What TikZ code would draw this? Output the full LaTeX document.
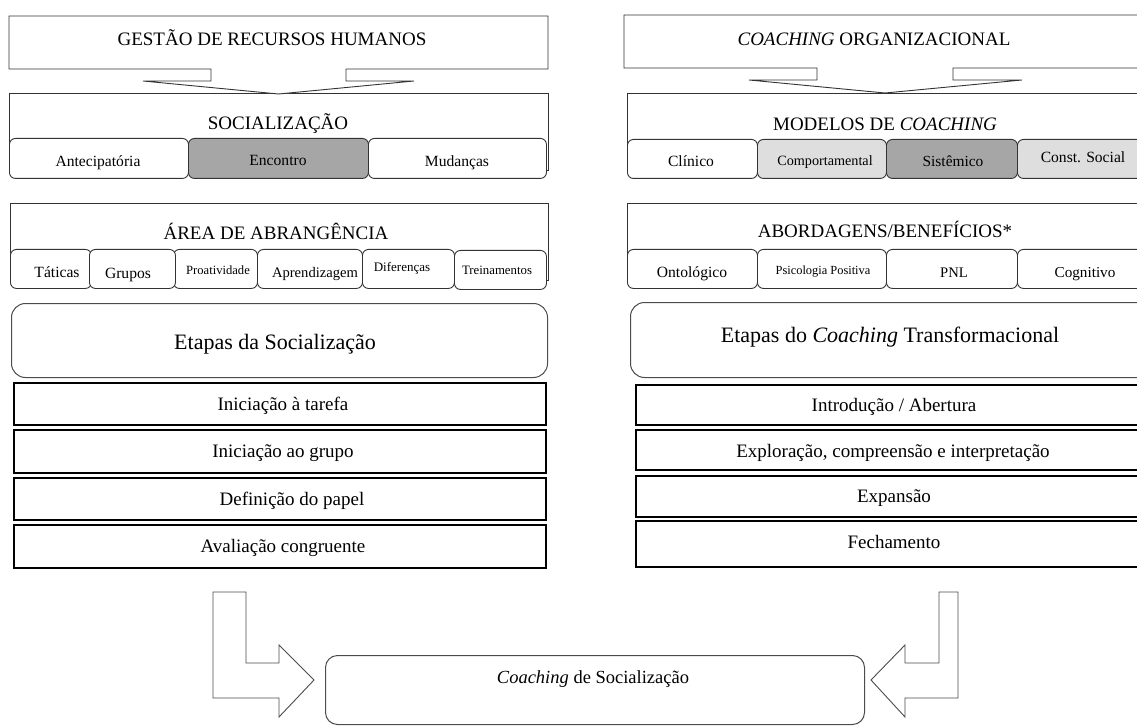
\documentclass[tikz,border=0pt]{standalone}
\usepackage{fontspec}
\setmainfont{Liberation Serif}
\definecolor{darkcell}{HTML}{A6A6A6}
\definecolor{lightcell}{HTML}{DEDEDE}
\definecolor{edge}{HTML}{333333}
\begin{document}
\begin{tikzpicture}[x=1pt,y=-1pt,
  outline/.style={draw=edge, line width=0.9pt, fill=white},
  panel/.style={draw=edge, line width=0.9pt, fill=white, anchor=north west, inner sep=0pt},
  cell/.style={draw=edge, line width=0.9pt, fill=white, rounded corners=6pt, anchor=north west, inner sep=0pt},
  stagebox/.style={draw=black, line width=1.8pt, fill=white, anchor=north west, inner sep=0pt},
  roundpanel/.style={draw=black!70, line width=1pt, fill=white, rounded corners=14pt, anchor=north west, inner sep=0pt},
  txt/.style={anchor=base, inner sep=0pt, font=\fontsize{#1}{#1}\selectfont}
]
\useasboundingbox (0,0) rectangle (1137,727);
\clip (0,0) rectangle (1137,727);

% ---------------- left column ----------------
% Socialização panel and its three cells
\node[panel, minimum width=539pt, minimum height=77pt] (socp) at (9,93) {};
\draw[outline] (9,16) -- (548,16) -- (548,69) -- (346,69) -- (346,81) -- (414,81)
  -- (278.5,94) -- (143,81) -- (211,81) -- (211,69) -- (9,69) -- cycle;
\node[txt=19] (grh) at (272,46) {GESTÃO DE RECURSOS HUMANOS};
\node[txt=19] (soct) at (278,130) {SOCIALIZAÇÃO};
\node[cell, minimum width=179pt, minimum height=40pt] (soc1) at (9,138) {};
\node[cell, fill=darkcell, minimum width=180pt, minimum height=40pt] (soc2) at (188,138) {};
\node[cell, minimum width=178pt, minimum height=40pt] (soc3) at (368,138) {};
\node[txt=15.6] (soc1t) at (98,167) {Antecipatória};
\node[txt=15.6] (soc2t) at (278,166) {Encontro};
\node[txt=15.6] (soc3t) at (457,167) {Mudanças};

% Área de abrangência panel and its six cells
\node[panel, minimum width=538pt, minimum height=77pt] (areap) at (10,203) {};
\node[txt=19] (areat) at (276,240) {ÁREA DE ABRANGÊNCIA};
\node[cell, minimum width=81pt, minimum height=39pt] (ar1) at (10,249) {};
\node[cell, minimum width=84pt, minimum height=39pt] (ar3) at (173,249) {};
\node[cell, minimum width=86pt, minimum height=39pt] (ar2) at (89,249) {};
\node[cell, minimum width=105pt, minimum height=39pt] (ar4) at (257,249) {};
\node[cell, minimum width=92pt, minimum height=39pt] (ar5) at (362,249) {};
\node[cell, minimum width=92pt, minimum height=39pt] (ar6) at (454,250) {};
\node[txt=15.6] (ar1t) at (57,277) {Táticas};
\node[txt=15.6] (ar2t) at (128,279) {Grupos};
\node[txt=12.6] (ar3t) at (218,275) {Proatividade};
\node[txt=14.6] (ar4t) at (315,277) {Aprendizagem};
\node[txt=13] (ar5t) at (402,272) {Diferenças};
\node[txt=12.8] (ar6t) at (497,275) {Treinamentos};

% Stages of socialization
\node[roundpanel, minimum width=536pt, minimum height=74pt] (etl) at (11,303) {};
\node[txt=22] (etlt) at (275,349) {Etapas da Socialização};
\node[stagebox, minimum width=532pt, minimum height=42pt] (sl1) at (13,382) {};
\node[stagebox, minimum width=532pt, minimum height=43pt] (sl2) at (13,429) {};
\node[stagebox, minimum width=532pt, minimum height=42pt] (sl3) at (13,477) {};
\node[stagebox, minimum width=532pt, minimum height=43pt] (sl4) at (13,524) {};
\node[txt=19] (sl1t) at (283,410) {Iniciação à tarefa};
\node[txt=19] (sl2t) at (283,457) {Iniciação ao grupo};
\node[txt=19] (sl3t) at (292,505) {Definição do papel};
\node[txt=19] (sl4t) at (283,552) {Avaliação congruente};

% ---------------- right column ----------------
\node[panel, minimum width=530pt, minimum height=77pt] (modp) at (627,93) {};
\draw[outline] (624,15) -- (1146,15) -- (1146,68) -- (953,68) -- (953,80) -- (1022,80)
  -- (885,93) -- (749,80) -- (817,80) -- (817,68) -- (624,68) -- cycle;
\node[txt=19] (cot) at (874,46) {\textit{COACHING} ORGANIZACIONAL};
\node[txt=19] (modt) at (885,131) {MODELOS DE \textit{COACHING}};
\node[cell, minimum width=130pt, minimum height=39pt] (md1) at (627,139) {};
\node[cell, fill=lightcell, minimum width=129pt, minimum height=39pt] (md2) at (757,139) {};
\node[cell, fill=darkcell, minimum width=131pt, minimum height=39pt] (md3) at (886,139) {};
\node[cell, fill=lightcell, minimum width=130pt, minimum height=39pt] (md4) at (1017,139) {};
\node[txt=15.6] (md1t) at (691,167) {Clínico};
\node[txt=14.2] (md2t) at (825,166) {Comportamental};
\node[txt=15.4] (md3t) at (953,167) {Sistêmico};
\node[txt=15.6] (md4t) at (1083,163) {Const. Social};

\node[panel, minimum width=530pt, minimum height=77pt] (abp) at (627,203) {};
\node[txt=19] (abt) at (885,238) {ABORDAGENS/BENEFÍCIOS*};
\node[cell, minimum width=130pt, minimum height=39pt] (ab1) at (627,249) {};
\node[cell, minimum width=129pt, minimum height=39pt] (ab2) at (757,249) {};
\node[cell, minimum width=131pt, minimum height=39pt] (ab3) at (886,249) {};
\node[cell, minimum width=130pt, minimum height=39pt] (ab4) at (1017,249) {};
\node[txt=15.6] (ab1t) at (692,277) {Ontológico};
\node[txt=12.4] (ab2t) at (823,275) {Psicologia Positiva};
\node[txt=14.6] (ab3t) at (954,277) {PNL};
\node[txt=15.2] (ab4t) at (1085,277) {Cognitivo};

% Stages of transformational coaching
\node[roundpanel, minimum width=530pt, minimum height=75pt] (etr) at (630,302) {};
\node[txt=22] (etrt) at (890,342) {Etapas do \textit{Coaching} Transformacional};
\node[stagebox, minimum width=525pt, minimum height=40pt] (sr1) at (635,384) {};
\node[stagebox, minimum width=525pt, minimum height=40pt] (sr2) at (635,429) {};
\node[stagebox, minimum width=525pt, minimum height=41pt] (sr3) at (635,475) {};
\node[stagebox, minimum width=525pt, minimum height=46pt] (sr4) at (635,520) {};
\node[txt=19] (sr1t) at (894,411) {Introdução / Abertura};
\node[txt=19] (sr2t) at (893,457) {Exploração, compreensão e interpretação};
\node[txt=19] (sr3t) at (894,502) {Expansão};
\node[txt=19] (sr4t) at (894,548) {Fechamento};

% ---------------- result ----------------
\node[draw=black!70, line width=1pt, rounded corners=12pt, anchor=north west, inner sep=0pt,
  minimum width=539pt, minimum height=69pt] (res) at (325,655) {};
\node[txt=18.5] (rest) at (593,683) {\textit{Coaching} de Socialização};

% bent block arrows feeding the result box
\coordinate (ltip) at (314,680);
\coordinate (rtip) at (871,680);
\draw[outline, draw=black!70] (213,592) -- (246,592) -- (246,663) -- (279,663) -- (279,645)
  -- (ltip) -- (279,717) -- (279,698) -- (213,698) -- cycle;
\draw[outline, draw=black!70] (958,592) -- (939,592) -- (939,663) -- (905,663) -- (905,645)
  -- (rtip) -- (905,717) -- (905,698) -- (958,698) -- cycle;
\end{tikzpicture}
\end{document}
